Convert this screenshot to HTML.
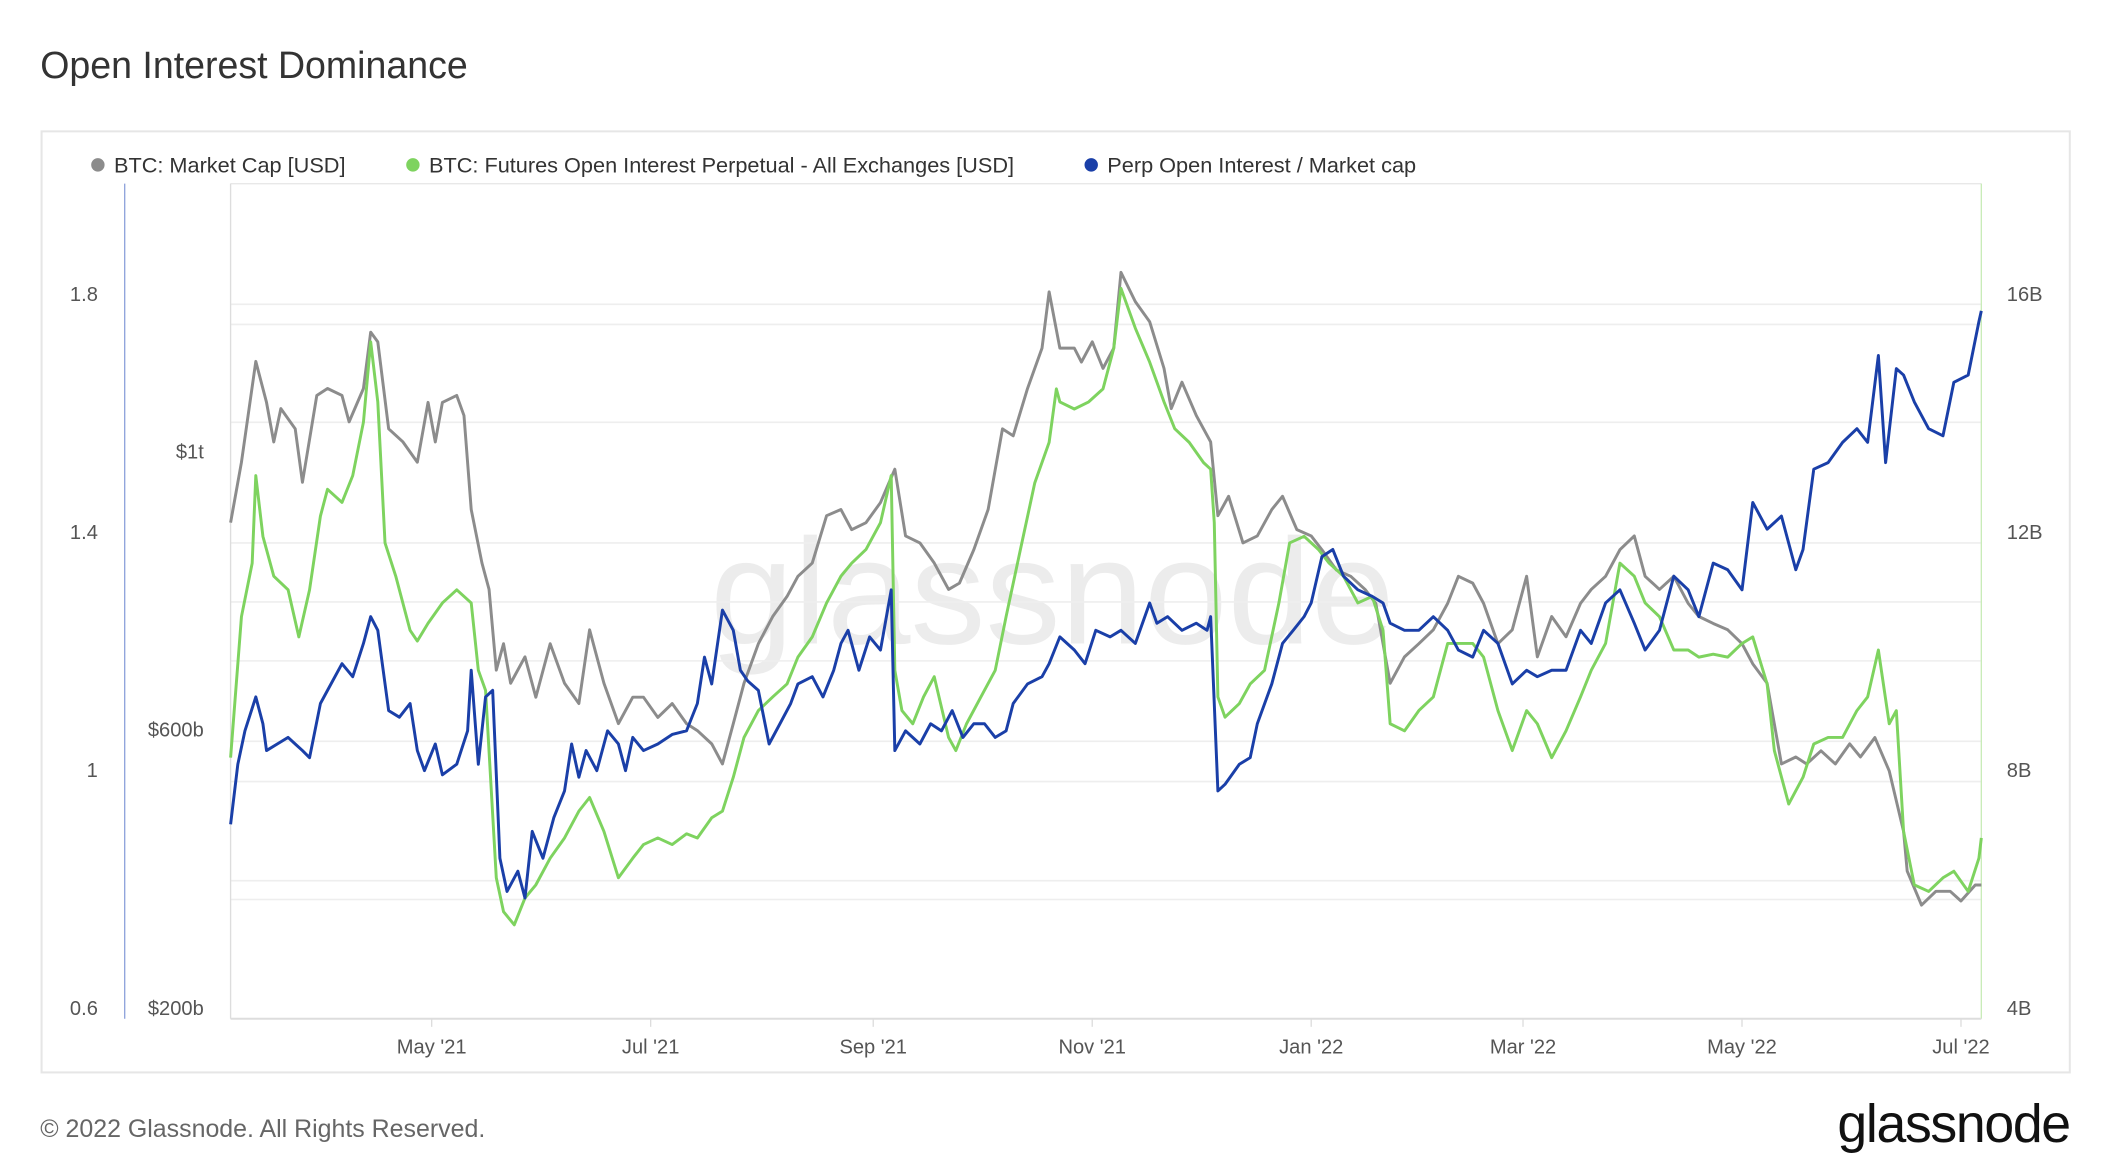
<!DOCTYPE html>
<html><head><meta charset="utf-8"><style>
html,body{margin:0;padding:0;background:#fff;}
svg{display:block;font-family:"Liberation Sans",sans-serif;}
</style></head><body>
<svg id="chart" width="2102" height="1168" viewBox="0 0 1568 871.3" xmlns="http://www.w3.org/2000/svg">
<text x="30" y="58" font-size="28" fill="#333">Open Interest Dominance</text>
<rect x="31" y="98" width="1513" height="702" fill="#fff" stroke="#e6e6e6" stroke-width="1.5"/>
<g font-size="16.2" fill="#333">
<g><circle cx="73" cy="123" r="5" fill="#8c8c8c"/><text x="85" y="128.5">BTC: Market Cap [USD]</text></g>
<g><circle cx="308" cy="123" r="5" fill="#7ed35f"/><text x="320" y="128.5">BTC: Futures Open Interest Perpetual - All Exchanges [USD]</text></g>
<g><circle cx="814" cy="123" r="5" fill="#1a3fa8"/><text x="826" y="128.5">Perp Open Interest / Market cap</text></g>
</g>
<text x="785" y="480" font-size="112" fill="#ececec" text-anchor="middle">glassnode</text>
<g id="grid"></g>
<line x1="172" y1="137" x2="1478" y2="137" stroke="#e8e8e8"/>
<line x1="172" y1="137" x2="172" y2="760" stroke="#ddd"/>
<line x1="1478" y1="137" x2="1478" y2="760" stroke="#c9ecb9"/>
<line x1="172" y1="760" x2="1478" y2="760" stroke="#ddd" stroke-width="1.5"/>
<line x1="93" y1="137" x2="93" y2="760" stroke="#8fa3dc"/>
<g id="axes" font-size="15" fill="#555"></g>
<g id="series"></g>
<text x="30" y="848" font-size="18.6" fill="#666">© 2022 Glassnode. All Rights Reserved.</text>
<text x="1544" y="852" font-size="40" fill="#111" text-anchor="end" letter-spacing="-1">glassnode</text>
</svg>
<script>
const tickDays=[56,117,179,240,301,360,421,482];
const tickLabels=["May '21","Jul '21","Sep '21","Nov '21","Jan '22","Mar '22","May '22","Jul '22"];
const ratioTicks=[1.8,1.4,1,0.6];
const mcapTicks=[1000,600,200];
const mcapTickLabels=["$1t","$600b","$200b"];
const oiTicks=[16,12,8,4];
const gridY=[227,242,315,405,449,493,553,583,657,671];

const mcapDays=[0,3,7,10,12,14,18,20,24,27,31,33,37,39,41,44,48,52,55,57,59,63,65,67,70,72,74,76,78,82,85,89,93,97,100,104,108,112,115,119,123,127,130,134,137,140,143,147,151,155,158,162,166,170,173,177,181,185,188,192,196,200,203,207,211,215,218,222,226,228,231,235,237,240,243,246,248,252,256,260,262,265,269,273,275,278,282,286,290,293,297,301,304,308,312,316,319,321,323,327,331,335,339,342,346,349,353,357,361,364,368,372,376,379,383,387,391,394,398,402,406,409,413,417,421,424,428,432,436,439,443,447,451,454,458,462,466,467,471,475,479,482,486,489];
const mcapVals=[898,985,1130,1071,1014,1062,1033,956,1081,1091,1081,1043,1091,1172,1158,1033,1014,985,1071,1014,1071,1081,1052,917,840,802,686,724,667,705,647,724,667,638,744,667,609,647,647,618,638,609,599,580,551,609,667,724,763,792,821,840,908,917,888,898,927,975,879,869,840,802,811,859,917,1033,1023,1091,1149,1230,1149,1149,1129,1158,1120,1149,1258,1216,1187,1120,1062,1100,1052,1014,908,936,869,879,917,936,888,879,859,830,821,802,782,724,667,705,724,744,782,821,811,782,724,744,821,705,763,734,782,802,821,859,879,821,802,821,782,763,753,744,724,695,667,551,561,551,570,551,580,561,589,541,454,397,348,368,368,354,377,377];

const oiDays=[0,3,6,7,9,12,16,19,22,25,27,31,34,37,39,41,43,46,50,52,55,59,63,67,69,71,74,76,79,82,85,89,93,97,100,104,108,112,115,119,123,127,130,134,137,140,143,147,151,155,158,162,166,170,173,177,181,184,185,187,190,193,196,200,202,205,209,213,216,220,224,228,230,231,235,239,243,246,248,252,256,260,263,267,271,273,274,275,277,281,284,288,292,295,299,303,306,310,314,318,321,323,327,331,335,339,342,346,349,353,357,361,364,368,372,376,379,383,387,391,394,398,402,406,409,413,417,421,424,428,430,434,438,441,445,449,453,456,459,462,464,466,469,473,477,480,484,487,489];
const oiVals=[8.21,10.58,11.48,12.95,11.93,11.26,11.03,10.24,11.03,12.27,12.72,12.5,12.95,13.85,15.2,14.19,11.82,11.26,10.35,10.17,10.47,10.81,11.03,10.81,9.68,9.34,6.19,5.62,5.4,5.85,6.07,6.52,6.86,7.31,7.54,6.97,6.19,6.52,6.75,6.86,6.75,6.93,6.86,7.2,7.31,7.88,8.55,9,9.23,9.45,9.9,10.24,10.81,11.26,11.48,11.71,12.16,12.95,9.68,9,8.78,9.23,9.57,8.55,8.33,8.78,9.23,9.68,10.58,11.71,12.83,13.51,14.41,14.19,14.07,14.19,14.41,15.09,16.1,15.43,14.86,14.19,13.74,13.51,13.17,13.06,12.16,9.23,8.89,9.12,9.45,9.68,10.81,11.82,11.93,11.71,11.48,11.26,10.81,10.92,10.35,8.78,8.66,9,9.23,10.13,10.13,10.13,9.9,9,8.33,9,8.78,8.21,8.66,9.23,9.68,10.13,11.48,11.26,10.81,10.58,10.02,10.02,9.9,9.95,9.9,10.13,10.24,9.45,8.33,7.43,7.88,8.44,8.55,8.55,9,9.23,10.02,8.78,9,6.97,6.07,5.96,6.19,6.3,5.96,6.52,6.86];

const ratioDays=[0,2,4,7,9,10,13,16,18,20,22,25,27,31,34,37,39,41,44,47,50,52,54,57,59,63,66,67,69,71,73,75,77,80,82,84,87,90,93,95,97,99,102,105,108,110,112,115,119,123,127,130,132,134,137,140,142,144,147,150,153,156,158,162,165,168,170,172,175,178,181,184,185,188,192,195,198,201,204,207,210,213,216,218,222,226,228,231,235,238,241,245,248,252,256,258,261,265,269,272,273,275,277,281,284,286,290,293,296,299,301,304,307,310,314,318,321,323,327,331,335,339,342,346,349,353,357,361,364,368,372,376,379,383,387,391,394,398,402,406,409,413,417,421,424,428,432,436,438,441,445,449,453,456,459,461,464,466,469,473,477,480,484,487,489];
const ratioVals=[0.909,1.01,1.066,1.123,1.078,1.033,1.044,1.055,1.044,1.033,1.021,1.112,1.134,1.179,1.157,1.213,1.258,1.235,1.1,1.089,1.112,1.033,0.999,1.044,0.992,1.01,1.066,1.168,1.01,1.123,1.134,0.852,0.796,0.83,0.785,0.897,0.852,0.92,0.965,1.044,0.988,1.033,0.999,1.066,1.044,0.999,1.055,1.033,1.044,1.06,1.066,1.112,1.19,1.145,1.269,1.235,1.168,1.15,1.134,1.044,1.078,1.112,1.145,1.157,1.123,1.168,1.213,1.235,1.168,1.224,1.202,1.303,1.033,1.066,1.044,1.078,1.066,1.1,1.055,1.078,1.078,1.055,1.066,1.112,1.145,1.157,1.179,1.224,1.202,1.179,1.235,1.224,1.235,1.213,1.281,1.247,1.258,1.235,1.247,1.235,1.258,0.965,0.976,1.01,1.021,1.078,1.145,1.213,1.235,1.258,1.281,1.359,1.371,1.326,1.303,1.292,1.281,1.247,1.235,1.235,1.258,1.235,1.202,1.19,1.235,1.213,1.145,1.168,1.157,1.168,1.168,1.235,1.213,1.281,1.303,1.247,1.202,1.235,1.326,1.303,1.258,1.348,1.337,1.303,1.45,1.405,1.427,1.337,1.371,1.506,1.517,1.551,1.574,1.551,1.697,1.517,1.675,1.664,1.619,1.574,1.562,1.652,1.664,1.754,1.772];

const NS='http://www.w3.org/2000/svg';
function xDay(d){return 322+(d-56)*2.678;}
function yRatio(v){return 752-(v-0.6)*443.75;}
function yMcap(v){return 752-(v-200)*207.5/400;}
function yOI(v){return 752-(v-4)*44.375;}
function mk(tag,attrs,parent){const e=document.createElementNS(NS,tag);for(const k in attrs)e.setAttribute(k,attrs[k]);parent.appendChild(e);return e;}

const grid=document.getElementById('grid');
gridY.forEach(y=>{
  const l=mk('line',{x1:172,x2:1478,y1:y,y2:y,stroke:'#eeeeee','stroke-width':1.2},grid);
  
  
});
const axes=document.getElementById('axes');
ratioTicks.forEach(v=>{
  const t=mk('text',{x:73,y:yRatio(v)+5,'text-anchor':'end'},axes);t.textContent=String(v);
  
  
});
mcapTicks.forEach((v,i)=>{
  const t=mk('text',{x:152,y:yMcap(v)+5,'text-anchor':'end'},axes);t.textContent=mcapTickLabels[i];
  
  
});
oiTicks.forEach(v=>{
  const t=mk('text',{x:1497,y:yOI(v)+5},axes);t.textContent=v+'B';
  
  
});
tickDays.forEach((d,i)=>{
  const tk=mk('line',{x1:xDay(d),x2:xDay(d),y1:760,y2:766,stroke:'#ddd'},axes);
  
  
  const t=mk('text',{x:xDay(d),y:786,'text-anchor':'middle'},axes);t.textContent=tickLabels[i];
  
  
});
const series=document.getElementById('series');
function line(days,vals,yf,color,name){
  const pts=days.map((d,i)=>Math.min(xDay(d),1478).toFixed(1)+','+yf(vals[i]).toFixed(1)).join(' ');
  const p=mk('polyline',{points:pts,fill:'none',stroke:color,'stroke-width':2.2,'stroke-linejoin':'round'},series);
  
  
}
line(mcapDays,mcapVals,yMcap,'#8c8c8c','market-cap-line');
line(oiDays,oiVals,yOI,'#7ed35f','futures-open-interest-line');
line(ratioDays,ratioVals,yRatio,'#1a3fa8','perp-oi-ratio-line');
</script>
</body></html>
